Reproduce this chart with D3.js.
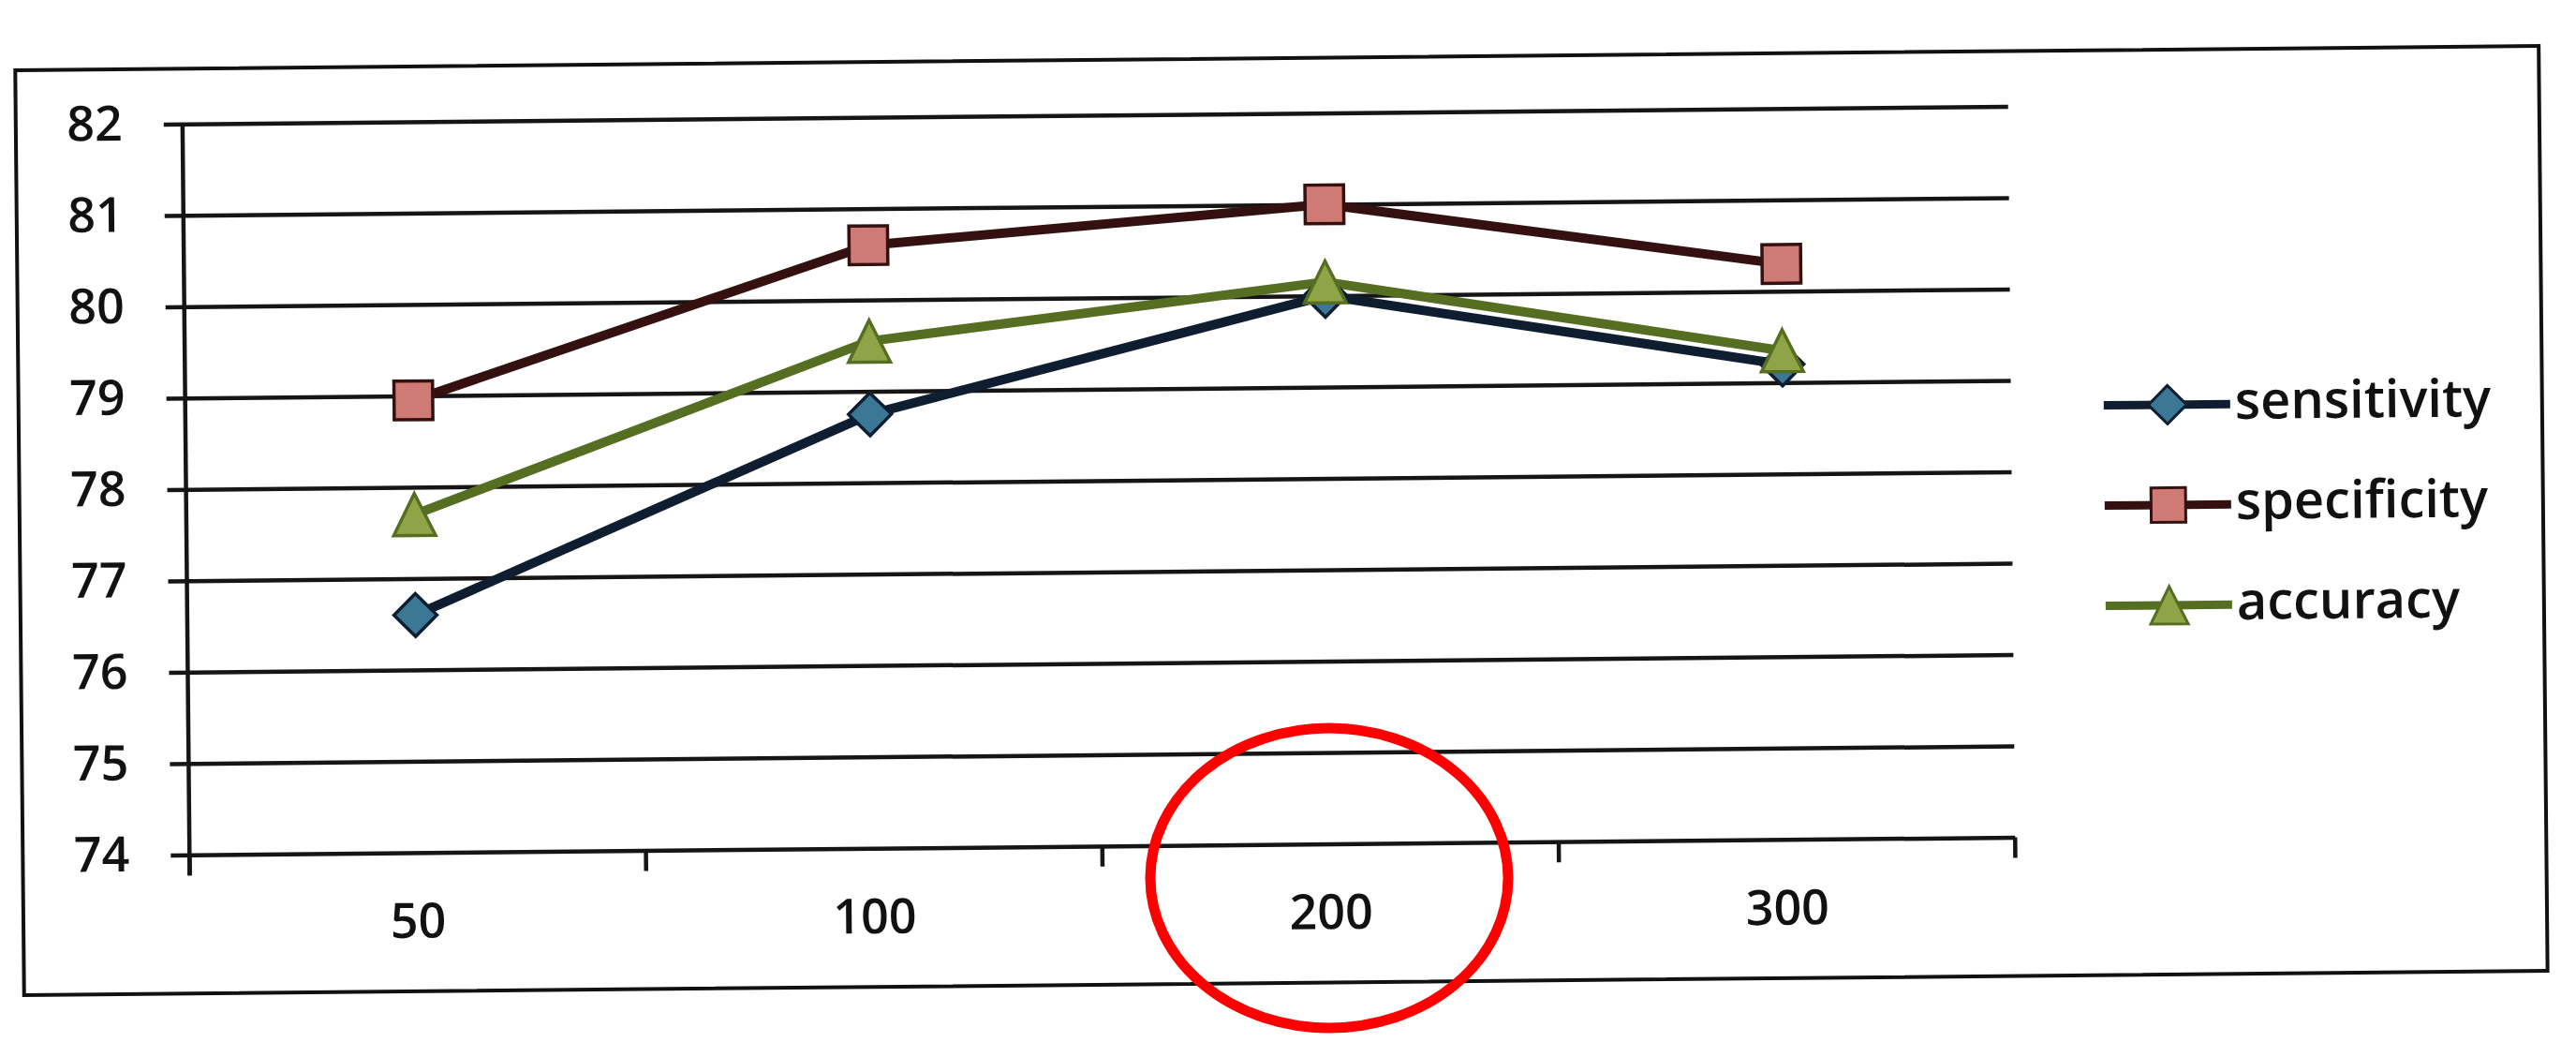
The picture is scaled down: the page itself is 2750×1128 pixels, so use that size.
<!DOCTYPE html>
<html>
<head>
<meta charset="utf-8">
<script src="https://cdn.jsdelivr.net/npm/d3@7"></script>
<style>
  body { margin: 0; background: #fff; }
  svg text { font-family: "Open Sans", sans-serif; font-weight: 600; fill: #111; }
</style>
</head>
<body>
<div id="chart"></div>
<script>
// data
var categories = ["50", "100", "200", "300"];
var sensitivity = [76.6, 78.75, 80.0, 79.2];
var specificity = [78.95, 80.6, 81.0, 80.3];
var accuracy = [77.7, 79.55, 80.15, 79.35];
var yTicks = [74, 75, 76, 77, 78, 79, 80, 81, 82];
var seriesNames = ["sensitivity", "specificity", "accuracy"];

var svgWidth = 2750;
var svgHeight = 1128;

var margin = { top: 121, right: 602, bottom: 227, left: 199 };
var width = svgWidth - margin.left - margin.right;
var height = svgHeight - margin.top - margin.bottom;

var svg = d3.select("#chart")
    .append("svg")
    .attr("width", svgWidth)
    .attr("height", svgHeight);

// excel-style marker shapes
var diamond = {
    draw: function(ctx, size) {
        var r = Math.sqrt(size) / 2;
        ctx.moveTo(0, -r); ctx.lineTo(r, 0); ctx.lineTo(0, r); ctx.lineTo(-r, 0); ctx.closePath();
    }
};
var triangle = {
    draw: function(ctx, size) {
        var r = Math.sqrt(size) / 2;
        ctx.moveTo(0, -r); ctx.lineTo(r, r); ctx.lineTo(-r, r); ctx.closePath();
    }
};

// the scan is slightly tilted
var page = svg.append("g")
    .attr("transform", "rotate(-0.55, 1368, 560)");

page.append("rect")
    .attr("x", 21)
    .attr("y", 62)
    .attr("width", 2694)
    .attr("height", 987)
    .attr("fill", "none")
    .attr("stroke", "#111")
    .attr("stroke-width", 4);

var chartGroup = page.append("g")
    .attr("transform", `translate(${margin.left}, ${margin.top})`);

var xScale = d3.scaleBand()
    .domain(categories)
    .range([0, width]);

var yScale = d3.scaleLinear()
    .domain([74, 82])
    .range([height, 0]);

// gridlines + left axis
var leftAxis = d3.axisLeft(yScale)
    .tickValues(yTicks)
    .tickSize(-width)
    .tickPadding(64)
    .tickFormat(d3.format("d"));

var yAxisG = chartGroup.append("g").call(leftAxis);
yAxisG.select(".domain").remove();
yAxisG.selectAll("line")
    .attr("x1", -20)
    .attr("stroke", "#151515")
    .attr("stroke-width", 4.5);
yAxisG.selectAll("text")
    .style("font-size", "52px");

chartGroup.append("line")
    .attr("x1", 0).attr("x2", 0)
    .attr("y1", 0).attr("y2", height + 22)
    .attr("stroke", "#151515")
    .attr("stroke-width", 4.5);

// bottom axis: ticks between categories
var bottomAxis = d3.axisBottom(xScale).tickSize(0).tickPadding(54);
var xAxisG = chartGroup.append("g")
    .attr("transform", `translate(0, ${height})`)
    .call(bottomAxis);
xAxisG.select(".domain").remove();
xAxisG.selectAll("text").style("font-size", "52px");

var bounds = categories.map(c => xScale(c)).concat([width]);
chartGroup.selectAll(".xtick")
    .data(bounds)
    .enter()
    .append("line")
    .attr("class", "xtick")
    .attr("x1", d => d).attr("x2", d => d)
    .attr("y1", height).attr("y2", height + 22)
    .attr("stroke", "#151515")
    .attr("stroke-width", 4.5);

var series = [
    { name: "sensitivity", values: sensitivity, line: "#0f1d30", fill: "#3a7896", shape: diamond, size: 2100 },
    { name: "specificity", values: specificity, line: "#351010", fill: "#cf7a74", shape: d3.symbolSquare, size: 1700 },
    { name: "accuracy", values: accuracy, line: "#566e22", fill: "#8ea446", shape: triangle, size: 2000 }
];

var line = d3.line()
    .x((d, i) => xScale(categories[i]) + xScale.bandwidth() / 2)
    .y(d => yScale(d));

series.forEach(function(s) {
    chartGroup.append("path")
        .datum(s.values)
        .attr("d", line)
        .attr("fill", "none")
        .attr("stroke", s.line)
        .attr("stroke-width", 10)
        .attr("stroke-linejoin", "round");
});

series.forEach(function(s) {
    chartGroup.selectAll(".m-" + s.name)
        .data(s.values)
        .enter()
        .append("path")
        .attr("class", "m-" + s.name)
        .attr("d", d3.symbol().type(s.shape).size(s.size))
        .attr("transform", (d, i) => `translate(${xScale(categories[i]) + xScale.bandwidth() / 2}, ${yScale(d)})`)
        .attr("fill", s.fill)
        .attr("stroke", s.line)
        .attr("stroke-width", 3.5);
});

// legend
var legend = page.append("g")
    .attr("transform", "translate(2247, 441)");

var legendRow = legend.selectAll(".row")
    .data(series)
    .enter()
    .append("g")
    .attr("class", "row")
    .attr("transform", (d, i) => `translate(0, ${i * 107})`);

legendRow.append("line")
    .attr("x1", 0).attr("x2", 135)
    .attr("stroke", d => d.line)
    .attr("stroke-width", 9);

legendRow.append("path")
    .attr("d", d => d3.symbol().type(d.shape).size(d.size * 0.8)())
    .attr("transform", "translate(68, 0)")
    .attr("fill", d => d.fill)
    .attr("stroke", d => d.line)
    .attr("stroke-width", 3);

legendRow.append("text")
    .attr("x", 140)
    .attr("dy", "0.28em")
    .style("font-size", "56px")
    .text((d, i) => seriesNames[i]);

// red highlight circle around 200
svg.append("ellipse")
    .attr("cx", 1419)
    .attr("cy", 937)
    .attr("rx", 191)
    .attr("ry", 160)
    .attr("fill", "none")
    .attr("stroke", "#ff0000")
    .attr("stroke-width", 11);
</script>
</body>
</html>
